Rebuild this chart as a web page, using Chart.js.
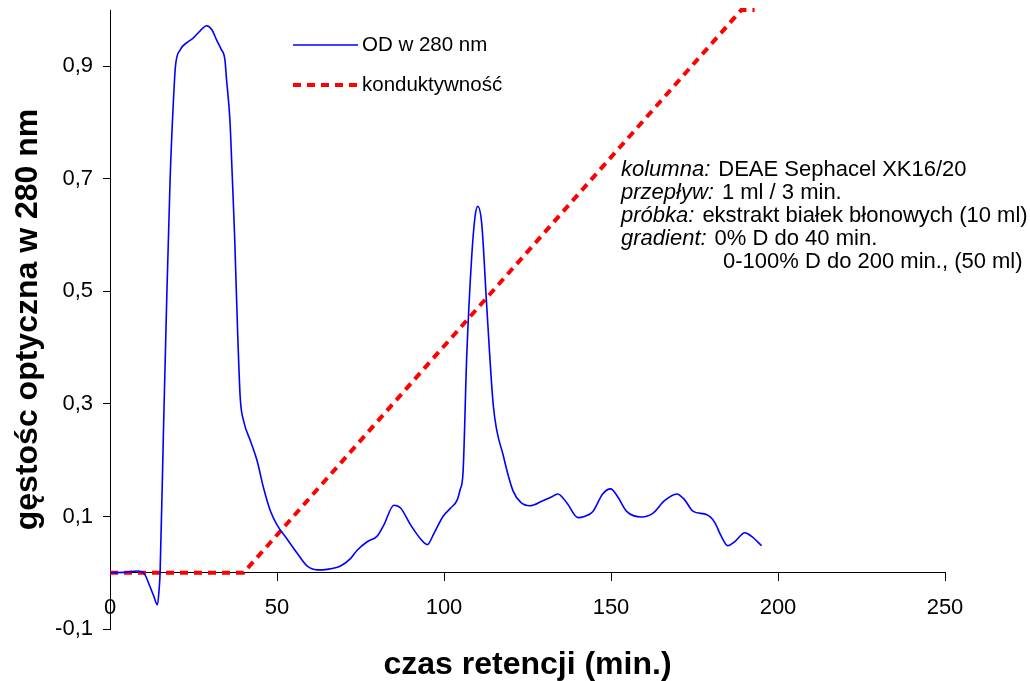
<!DOCTYPE html>
<html>
<head>
<meta charset="utf-8">
<script src="https://cdn.jsdelivr.net/npm/chart.js@4.4.0/dist/chart.umd.min.js"></script>
<style>
  body { margin: 0; background: #fff; }
  #wrap { width: 1030px; height: 681px; }
</style>
</head>
<body>
<div id="wrap"><canvas id="chromChart"></canvas></div>
<script>
// retention time (min.) and OD at 280 nm
const odTime = [0, 5, 8, 10, 12, 13, 14.2, 14.7, 15, 16, 17, 18, 19, 19.6, 21, 23, 24.9, 27, 28.9, 30.5, 31.9, 33.3, 34.4, 34.9, 35.9, 36.5, 37.3, 38.2, 39, 40, 42, 44, 46, 48, 50, 53, 56, 59, 62, 65, 69, 72, 74, 77, 80, 82, 85, 87, 90, 93, 95, 97, 99.7, 102, 104, 104.8, 105.7, 106.8, 108.3, 109.3, 110.1, 111.3, 112.8, 114.8, 117.8, 120.7, 123, 125.7, 129.6, 132, 134.1, 136.8, 140.1, 142, 144.6, 147.5, 149.9, 152, 154.7, 159.2, 162.6, 166, 169.7, 172, 174.6, 178.7, 181, 183, 185, 187, 190.1, 192, 195.1];
const odValue = [0, 0.001, 0.003, 0, -0.025, -0.04, -0.057, -0.03, 0, 0.25, 0.49, 0.7, 0.84, 0.9, 0.929, 0.942, 0.95, 0.963, 0.972, 0.965, 0.947, 0.93, 0.912, 0.876, 0.805, 0.72, 0.6, 0.43, 0.31, 0.27, 0.235, 0.2, 0.15, 0.11, 0.085, 0.06, 0.035, 0.012, 0.005, 0.006, 0.012, 0.025, 0.04, 0.055, 0.065, 0.085, 0.12, 0.115, 0.085, 0.06, 0.05, 0.07, 0.1, 0.115, 0.13, 0.147, 0.178, 0.384, 0.562, 0.633, 0.651, 0.62, 0.473, 0.295, 0.207, 0.145, 0.125, 0.119, 0.128, 0.134, 0.14, 0.124, 0.098, 0.1, 0.109, 0.14, 0.149, 0.135, 0.109, 0.099, 0.106, 0.128, 0.14, 0.13, 0.109, 0.103, 0.09, 0.065, 0.048, 0.055, 0.071, 0.065, 0.048];

// conductivity (gradient)
const condTime = [0, 40, 189, 193];
const condValue = [0, 0, 1, 1];

const xTicks = [0, 50, 100, 150, 200, 250];
const yTicks = [-0.1, 0.1, 0.3, 0.5, 0.7, 0.9];

const legendLabels = ['OD w 280 nm', 'konduktywność'];
const notes = [
  ['kolumna:', 'DEAE Sephacel XK16/20'],
  ['przepływ:', '1 ml / 3 min.'],
  ['próbka:', 'ekstrakt białek błonowych (10 ml)'],
  ['gradient:', '0% D do 40 min.'],
  ['', '0-100% D do 200 min., (50 ml)']
];

const FONT = "'Liberation Sans', Arial, sans-serif";

function toPoints(xs, ys) {
  return xs.map((x, i) => ({ x: x, y: ys[i] }));
}

// legend + description text inside the plot
const overlayPlugin = {
  id: 'overlay',
  afterDraw(chart) {
    const ctx = chart.ctx;
    ctx.save();
    ctx.font = '20.5px ' + FONT;
    ctx.textBaseline = 'middle';
    ctx.fillStyle = '#000';

    // legend
    const rows = [45, 85];
    chart.data.datasets.forEach((ds, i) => {
      ctx.beginPath();
      ctx.strokeStyle = ds.borderColor;
      ctx.lineWidth = ds.borderWidth;
      ctx.setLineDash(ds.borderDash || []);
      ctx.moveTo(293, rows[i]);
      ctx.lineTo(358, rows[i]);
      ctx.stroke();
      ctx.setLineDash([]);
      ctx.fillText(legendLabels[i], 362, rows[i]);
    });

    // description
    let y = 170;
    notes.forEach(n => {
      let x = 621;
      if (n[0]) {
        ctx.font = 'italic 22px ' + FONT;
        ctx.fillText(n[0], x, y);
        x += ctx.measureText(n[0]).width + 8;
      } else {
        x = 723;
      }
      ctx.font = '22px ' + FONT;
      ctx.fillText(n[1], x, y);
      y += 23;
    });
    ctx.restore();
  }
};

document.addEventListener("DOMContentLoaded", function () {
  const ctx = document.getElementById('chromChart').getContext('2d');
  new Chart(ctx, {
    type: 'scatter',
    data: {
      datasets: [{
        label: legendLabels[0],
        data: toPoints(odTime, odValue),
        showLine: true,
        borderColor: '#0000ff',
        borderWidth: 1.6,
        pointRadius: 0,
        cubicInterpolationMode: 'monotone',
        clip: false
      }, {
        label: legendLabels[1],
        data: toPoints(condTime, condValue),
        showLine: true,
        borderColor: '#ff0000',
        borderWidth: 4,
        borderDash: [8, 6],
        pointRadius: 0,
        clip: false
      }]
    },
    options: {
      responsive: true,
      maintainAspectRatio: false,
      animation: false,
      layout: { padding: { top: 10, right: 85, left: 0, bottom: 0 } },
      plugins: {
        legend: { display: false },
        tooltip: { enabled: false },
        title: {
          display: true,
          fullSize: false,
          position: 'bottom',
          text: 'czas retencji (min.)',
          color: '#000',
          font: { family: FONT, size: 32, weight: 'bold', lineHeight: 1 },
          padding: { top: 20, bottom: 0 }
        }
      },
      scales: {
        x: {
          type: 'linear',
          min: 0,
          max: 250,
          position: { y: 0 },
          afterBuildTicks: s => { s.ticks = xTicks.map(v => ({ value: v })); },
          afterFit: s => { s.paddingLeft = 0; s.paddingRight = 0; },
          grid: { drawOnChartArea: false, tickLength: 8, color: '#000', tickColor: '#000' },
          border: { color: '#000', width: 1 },
          ticks: {
            color: '#000',
            padding: 14,
            font: { family: FONT, size: 22 },
            callback: v => String(v)
          }
        },
        y: {
          type: 'linear',
          min: -0.1,
          max: 1.0,
          afterFit: s => { s.width = 110; s.paddingTop = 0; s.paddingBottom = 0; },
          afterBuildTicks: s => { s.ticks = yTicks.map(v => ({ value: v })); },
          grid: { drawOnChartArea: false, tickLength: 7, color: '#000', tickColor: '#000' },
          border: { color: '#000', width: 1 },
          ticks: {
            color: '#000',
            padding: 10,
            font: { family: FONT, size: 22 },
            callback: v => v.toFixed(1).replace('.', ',')
          },
          title: {
            display: true,
            text: 'gęstośc optyczna w 280 nm',
            color: '#000',
            font: { family: FONT, size: 32, weight: 'bold', lineHeight: 1.2 },
            padding: { top: 9, bottom: 0 }
          }
        }
      }
    },
    plugins: [overlayPlugin]
  });
});
</script>
</body>
</html>
